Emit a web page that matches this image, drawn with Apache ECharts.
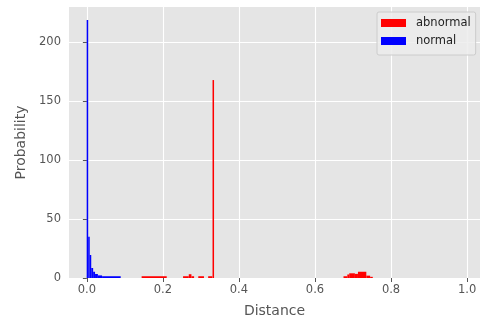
<!DOCTYPE html>
<html>
<head>
<meta charset="utf-8">
<script src="https://cdn.jsdelivr.net/npm/echarts@6/dist/echarts.min.js"></script>
<style>
  html, body { margin: 0; padding: 0; background: #ffffff; }
  #chart { width: 480px; height: 323px; }
</style>
</head>
<body>
<div id="chart"></div>
<script>
// Histogram bins: [left edge, right edge, density]
const abnormalBins = [
  [0.144, 0.210, 1.5],
  [0.253, 0.268, 1.5],
  [0.268, 0.275, 3.2],
  [0.275, 0.282, 1.5],
  [0.293, 0.308, 1.5],
  [0.319, 0.330, 1.5],
  [0.3305, 0.3345, 168],
  [0.675, 0.685, 1.5],
  [0.685, 0.690, 3],
  [0.690, 0.705, 4],
  [0.705, 0.713, 3.5],
  [0.713, 0.735, 5.3],
  [0.735, 0.745, 2],
  [0.745, 0.752, 1]
];

const normalBins = [
  [-0.0005, 0.0035, 219],
  [0.0035, 0.0075, 35],
  [0.0075, 0.0115, 19.5],
  [0.0115, 0.0165, 8.5],
  [0.0165, 0.0215, 5.3],
  [0.0215, 0.029, 3.4],
  [0.029, 0.040, 2.2],
  [0.040, 0.089, 1.5]
];

const seriesNames = ['abnormal', 'normal'];
const seriesColors = ['#ff0000', '#0000ff'];

const xTicks = [0, 0.2, 0.4, 0.6, 0.8, 1.0];
const yTicks = [0, 50, 100, 150, 200];

const xLabel = 'Distance';
const yLabel = 'Probability';

const chart = echarts.init(document.getElementById('chart'), null, { renderer: 'canvas' });

function histRenderer(color) {
  return function (params, api) {
    const topLeft = api.coord([api.value(0), api.value(2)]);
    const bottomRight = api.coord([api.value(1), 0]);
    return {
      type: 'rect',
      shape: {
        x: topLeft[0],
        y: topLeft[1],
        width: bottomRight[0] - topLeft[0],
        height: bottomRight[1] - topLeft[1]
      },
      style: { fill: color }
    };
  };
}

const tickText = { color: '#555555', fontSize: 11.5, fontFamily: 'DejaVu Sans' };

chart.setOption({
  animation: false,
  backgroundColor: '#ffffff',
  grid: {
    left: 69, right: 0, top: 7, bottom: 45,
    show: true, backgroundColor: '#e5e5e5', borderWidth: 0
  },
  legend: {
    data: seriesNames.map((n, i) => ({ name: n, itemStyle: { color: seriesColors[i] } })),
    orient: 'vertical',
    left: 377, top: 12,
    icon: 'rect',
    itemWidth: 25, itemHeight: 8, itemGap: 6,
    padding: [5, 5, 8, 4],
    backgroundColor: 'rgba(236,236,236,0.85)',
    borderColor: '#cccccc', borderWidth: 1, borderRadius: 2,
    textStyle: { color: '#222222', fontSize: 11.5, fontFamily: 'DejaVu Sans', lineHeight: 12, padding: [0, 0, 0, 5] }
  },
  xAxis: {
    type: 'value',
    min: -0.047, max: 1.034,
    name: xLabel, nameLocation: 'middle', nameGap: 26,
    nameTextStyle: { color: '#555555', fontSize: 14, fontFamily: 'DejaVu Sans' },
    axisLine: { show: false },
    axisTick: { show: true, customValues: xTicks, length: 4, lineStyle: { color: '#555555', width: 1 } },
    axisLabel: Object.assign({ customValues: xTicks, margin: 6, formatter: v => v.toFixed(1) }, tickText),
    splitLine: { show: true, lineStyle: { color: '#ffffff', width: 1.1 } }
  },
  yAxis: {
    type: 'value',
    min: 0, max: 230,
    name: yLabel, nameLocation: 'middle', nameGap: 40,
    nameTextStyle: { color: '#555555', fontSize: 14, fontFamily: 'DejaVu Sans' },
    axisLine: { show: false },
    axisTick: { show: true, customValues: yTicks, length: 4, lineStyle: { color: '#555555', width: 1 } },
    axisLabel: Object.assign({ customValues: yTicks, margin: 8 }, tickText),
    splitLine: { show: true, lineStyle: { color: '#ffffff', width: 1.1 } }
  },
  series: [
    {
      name: seriesNames[0],
      type: 'custom',
      itemStyle: { color: seriesColors[0] },
      renderItem: histRenderer(seriesColors[0]),
      encode: { x: [0, 1], y: 2 },
      data: abnormalBins
    },
    {
      name: seriesNames[1],
      type: 'custom',
      itemStyle: { color: seriesColors[1] },
      renderItem: histRenderer(seriesColors[1]),
      encode: { x: [0, 1], y: 2 },
      data: normalBins
    }
  ]
});
</script>
</body>
</html>
